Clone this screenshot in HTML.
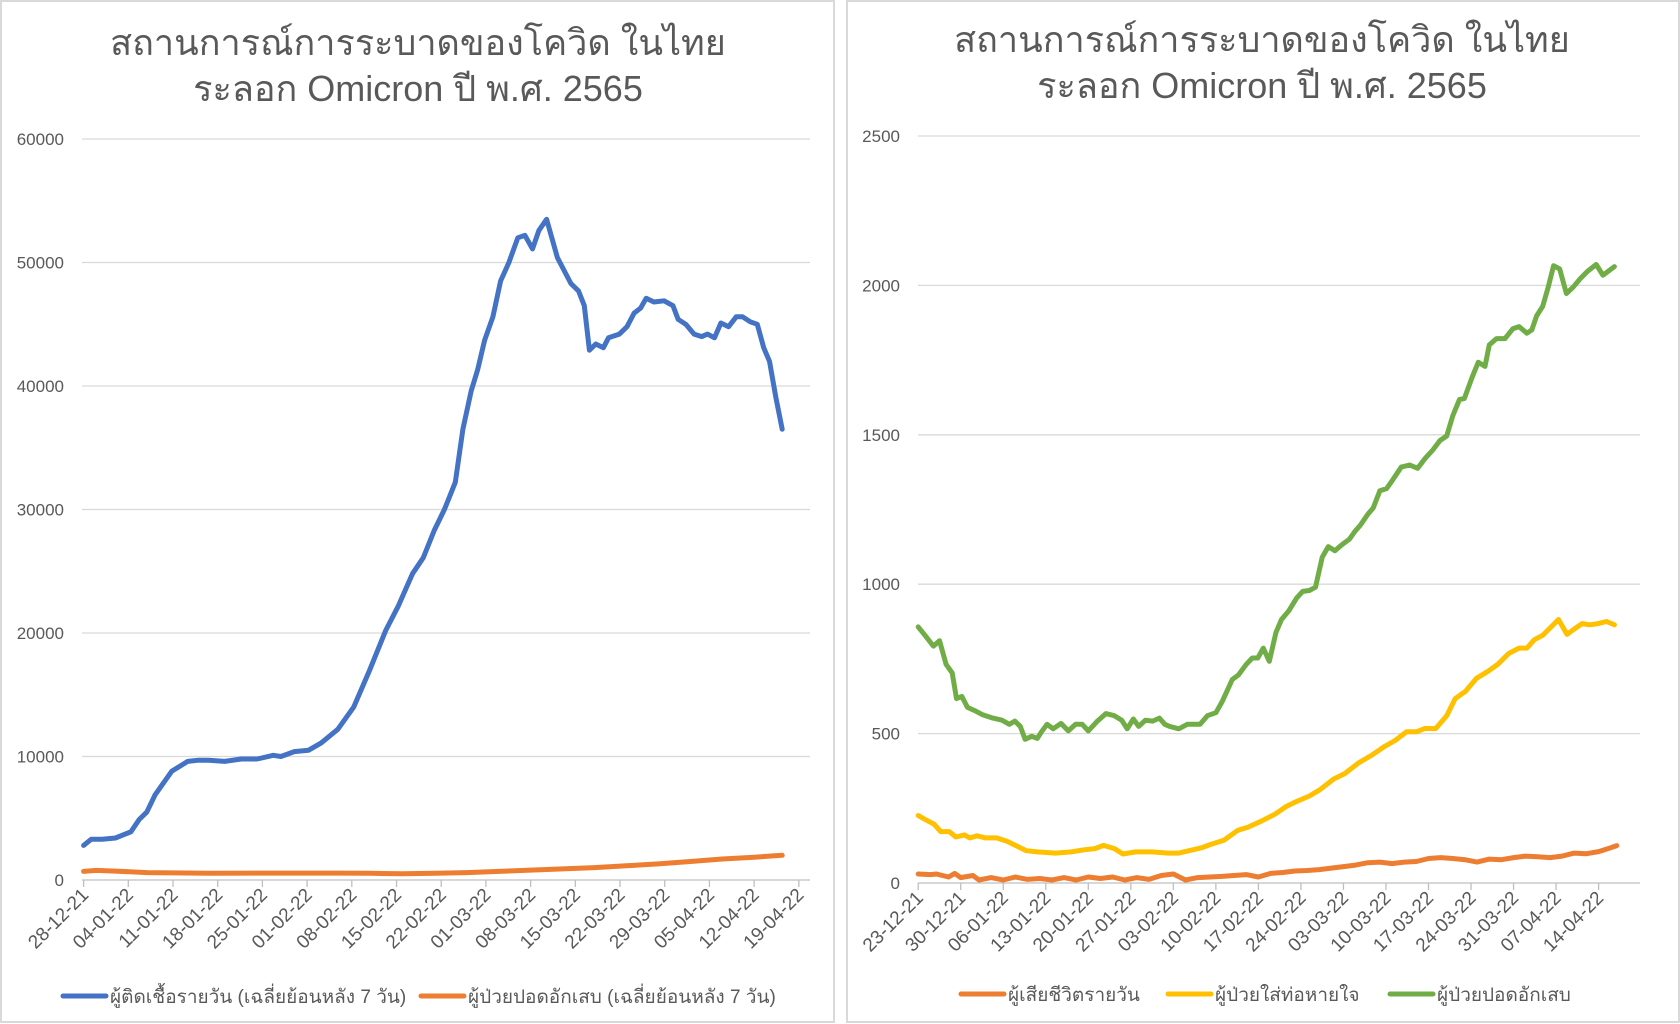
<!DOCTYPE html>
<html><head><meta charset="utf-8">
<style>
html,body{margin:0;padding:0;background:#fff;}
svg{display:block;font-family:"Liberation Sans","DejaVu Sans",sans-serif;}
</style></head>
<body>
<svg id="c" width="1680" height="1024" viewBox="0 0 1680 1024">
<rect x="0" y="0" width="1680" height="1024" fill="#fff"/>
<rect x="1" y="1" width="833" height="1021" fill="none" stroke="#d9d9d9" stroke-width="2"/>
<rect x="847" y="1" width="832" height="1021" fill="none" stroke="#d9d9d9" stroke-width="2"/>
<g id="left"></g>
<g id="right"></g>
</svg>
<script>
// ---- Left chart data ----
const leftTicks = ["28-12-21","04-01-22","11-01-22","18-01-22","25-01-22","01-02-22","08-02-22","15-02-22","22-02-22","01-03-22","08-03-22","15-03-22","22-03-22","29-03-22","05-04-22","12-04-22","19-04-22"];
const leftYTicks = [0,10000,20000,30000,40000,50000,60000];
const casesDays = [0,1.2,2.9,5,7.4,8.7,9.9,11.2,13.8,16.3,18,19.6,22.1,24.7,27.2,29.7,30.9,33,35.2,37.2,39.8,42.3,44.8,47.3,49.3,51.5,53.2,54.9,56.5,58.2,59.4,60.7,61.7,62.8,64.1,65.3,66.6,68,69.1,70.3,71.3,72.5,74.2,76.3,77.5,78.4,79.2,80.2,81.4,82.2,83.9,85.1,86.2,87.2,88.1,89.3,90.9,92.3,93.1,94.3,95.6,96.8,97.7,98.8,99.8,101,102.2,103.2,104.4,105.5,106.5,107.4,108.4,109.4];
const casesVals = [2800,3300,3300,3400,3900,4900,5500,6900,8800,9600,9700,9700,9600,9800,9800,10100,10000,10400,10500,11100,12200,14000,17000,20200,22200,24800,26100,28300,30000,32200,36500,39600,41300,43700,45600,48500,50000,52000,52200,51100,52600,53500,50400,48300,47700,46500,42900,43400,43100,43900,44200,44800,45900,46300,47100,46800,46900,46500,45400,45000,44200,44000,44200,43900,45100,44800,45600,45600,45200,45000,43100,42000,39100,36500];
const pneuLDays = [0,2,5,10,20,30,40,45,50,55,60,65,70,75,80,85,90,95,100,105,109.4];
const pneuLVals = [700,780,720,600,550,560,560,540,500,540,600,700,800,900,1000,1150,1300,1500,1700,1850,2000];

// ---- Right chart data ----
const rightTicks = ["23-12-21","30-12-21","06-01-22","13-01-22","20-01-22","27-01-22","03-02-22","10-02-22","17-02-22","24-02-22","03-03-22","10-03-22","17-03-22","24-03-22","31-03-22","07-04-22","14-04-22"];
const rightYTicks = [0,500,1000,1500,2000,2500];
const greenDays = [0,1,2.5,3.5,4.6,5.6,6.3,7.2,8.1,9.3,10.6,12.3,13.8,15,15.9,16.8,17.6,18.7,19.6,20.3,21.2,22.2,23.5,24.7,25.9,27,28,29.5,30.9,32.3,33.5,34.4,35.4,36.3,37.4,38.6,39.7,40.6,41.4,42.9,44.3,45.3,46.4,47.6,49,50,51.7,52.7,54,55,55.9,56.8,57.8,58.9,59.8,61,62.3,63.3,64.4,65.4,66.5,67.5,68.6,69.8,71,71.9,72.8,74,74.9,76,77.1,78.1,79.5,80.9,82.2,83.4,84.7,85.9,87,88,89.1,89.9,91.2,92.2,93.3,94,95.2,96.6,97.9,98.9,100.2,101,101.8,102.8,103.7,104.6,105.6,106.7,107.8,109,110.2,111.6,112.7,114.6];
const greenVals = [857,832,793,811,732,703,617,624,588,577,563,552,545,531,542,524,481,491,484,506,531,516,534,509,531,531,509,542,567,560,545,516,549,524,545,542,552,531,524,516,531,531,531,560,570,606,681,696,732,753,753,786,742,839,882,911,954,976,979,990,1090,1126,1112,1133,1151,1177,1198,1234,1255,1313,1320,1349,1392,1399,1388,1420,1449,1481,1496,1564,1618,1621,1693,1743,1729,1801,1822,1822,1855,1862,1840,1851,1898,1930,1994,2066,2055,1973,1994,2023,2048,2070,2034,2063];
const yellowDays = [0,1.2,2.6,3.7,5.1,6.2,7.6,8.5,9.7,11.1,12.9,14.6,16.4,17.8,19.6,22.6,25.2,27.3,29.1,30.5,32.3,33.7,35.8,38.5,41.1,42.9,44.6,46.7,48.1,50.3,52.6,54.3,56.6,58.7,60.5,62.3,64.4,66.1,68.4,70.2,72.5,74.6,76.7,78.5,80.4,82,83.4,85.2,87,88.4,90.1,91.9,93.7,95.4,97.2,98.9,100.2,101.4,102.8,104.2,105.4,106.8,108,109.3,110.5,111.9,113.3,114.6];
const yellowVals = [226,212,197,172,172,154,161,151,158,151,151,140,122,108,104,100,104,111,115,126,115,97,104,104,100,100,108,118,129,143,176,187,208,230,255,273,291,312,348,366,402,427,456,477,506,506,517,517,560,617,642,685,707,732,768,786,786,814,829,857,882,832,850,868,864,868,875,864];
const deathDays = [0,2,3,5,6,7,9,10,12,14,16,18,20,22,24,26,28,30,32,34,36,38,40,42,44,46,48,50,52,54,56,58,60,62,64,66,68,70,72,74,76,78,80,82,84,86,88,90,92,94,96,98,100,102,104,106,108,110,112,114,115];
const deathVals = [30,28,30,20,32,18,25,10,18,10,20,12,15,10,18,10,20,15,20,10,18,12,25,30,10,18,20,22,25,28,20,32,35,40,42,45,50,55,60,68,70,65,70,72,82,85,82,78,70,80,78,85,90,88,85,90,100,98,105,118,125];

const NS="http://www.w3.org/2000/svg";
function el(tag, attrs, parent, text){
  const e=document.createElementNS(NS,tag);
  for(const k in attrs) e.setAttribute(k, attrs[k]);
  if(text!==undefined) e.textContent=text;
  parent.appendChild(e); return e;
}

function drawChart(g, cfg){
  const xS = d => cfg.x0 + d*cfg.dx;
  const yS = v => cfg.y0 - (v/cfg.ymax)*(cfg.y0-cfg.ytop);
  cfg.titles.forEach((t,i)=>{
    const tt=el('text',{x:cfg.tx,y:cfg.ty+i*46,'text-anchor':'middle','font-size':36,fill:'#595959'},g,t);
    
    
  });
  cfg.yTicks.forEach(v=>{
    const y=yS(v);
    if(v>0){
      const ln=el('line',{x1:cfg.px0,x2:cfg.px1,y1:y,y2:y,stroke:'#d9d9d9','stroke-width':1.3},g);
      
      
    }
    const lb=el('text',{x:cfg.ylx,y:y+6,'text-anchor':'end','font-size':17,fill:'#595959'},g,String(v));
    
    
  });
  const ax=el('line',{x1:cfg.px0,x2:cfg.px1,y1:cfg.y0,y2:cfg.y0,stroke:'#bfbfbf','stroke-width':1.3},g);
  
  
  cfg.xTicks.forEach((t,i)=>{
    const x=xS(i*7);
    const tk=el('line',{x1:x,x2:x,y1:cfg.y0,y2:cfg.y0+7,stroke:'#bfbfbf','stroke-width':1.3},g);
    
    
    const lb=el('text',{x:x+6,y:cfg.y0+16,'text-anchor':'end','font-size':19,fill:'#595959',transform:`rotate(-45 ${x+6} ${cfg.y0+16})`},g,t);
    
    
  });
  cfg.series.forEach(s=>{
    const pts=s.days.map((d,i)=>xS(d).toFixed(1)+','+yS(s.vals[i]).toFixed(1)).join(' ');
    const pl=el('polyline',{points:pts,fill:'none',stroke:s.color,'stroke-width':5,'stroke-linejoin':'round','stroke-linecap':'round'},g);
    
    
  });
  cfg.legend.forEach(l=>{
    const lg=el('g',{},g);
    
    
    el('line',{x1:l.x,x2:l.x+43,y1:cfg.ly,y2:cfg.ly,stroke:l.color,'stroke-width':5,'stroke-linecap':'round'},lg);
    el('text',{x:l.x+47,y:cfg.ly+7,'font-size':19,fill:'#595959'},lg,l.text);
  });
}

drawChart(document.getElementById('left'),{
  x0:83.6, dx:6.386, y0:880, ytop:139, ymax:60000, px0:82, px1:810, ylx:64,
  tx:418, ty:55, titles:["สถานการณ์การระบาดของโควิด ในไทย","ระลอก Omicron ปี พ.ศ. 2565"],
  yTicks:leftYTicks, xTicks:leftTicks,
  series:[
    {days:pneuLDays, vals:pneuLVals, color:'#ED7D31', name:'pneumonia-7day-line'},
    {days:casesDays, vals:casesVals, color:'#4472C4', name:'daily-cases-7day-line'}
  ],
  ly:996,
  legend:[
    {x:63,color:'#4472C4',text:'ผู้ติดเชื้อรายวัน (เฉลี่ยย้อนหลัง 7 วัน)'},
    {x:421,color:'#ED7D31',text:'ผู้ป่วยปอดอักเสบ (เฉลี่ยย้อนหลัง 7 วัน)'}
  ]
});

drawChart(document.getElementById('right'),{
  x0:918.2, dx:6.075, y0:883, ytop:136, ymax:2500, px0:918, px1:1640, ylx:900,
  tx:1262, ty:52, titles:["สถานการณ์การระบาดของโควิด ในไทย","ระลอก Omicron ปี พ.ศ. 2565"],
  yTicks:rightYTicks, xTicks:rightTicks,
  series:[
    {days:deathDays, vals:deathVals, color:'#ED7D31', name:'daily-deaths-line'},
    {days:yellowDays, vals:yellowVals, color:'#FFC000', name:'ventilator-line'},
    {days:greenDays, vals:greenVals, color:'#70AD47', name:'pneumonia-line'}
  ],
  ly:994,
  legend:[
    {x:961,color:'#ED7D31',text:'ผู้เสียชีวิตรายวัน'},
    {x:1168,color:'#FFC000',text:'ผู้ป่วยใส่ท่อหายใจ'},
    {x:1390,color:'#70AD47',text:'ผู้ป่วยปอดอักเสบ'}
  ]
});
</script>
</body></html>
